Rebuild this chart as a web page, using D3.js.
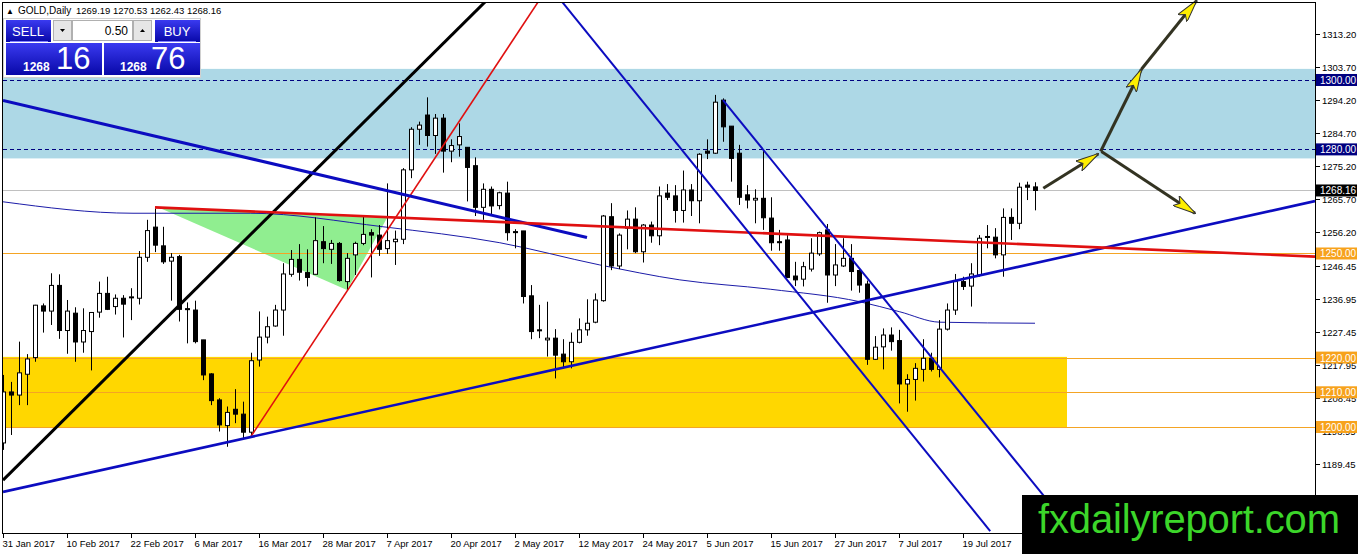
<!DOCTYPE html>
<html>
<head>
<meta charset="utf-8">
<script src="https://cdn.jsdelivr.net/npm/d3@7"></script>
<style>
  body { margin: 0; background: #fff; overflow: hidden; }
  svg { display: block; }
  text { font-family: "Liberation Sans", Arial, sans-serif; }
</style>
</head>
<body>
<svg id="chart" width="1358" height="554"></svg>
<script>
// Daily candles, one per trading day from 31 Jan 2017: [open, high, low, close]
const ohlc = [
  [1195.4,1215.0,1193.4,1210.1],[1210.1,1213.0,1197.7,1209.2],[1209.2,1224.6,1206.3,1215.6],[1215.2,1221.0,1206.3,1219.6],
  [1220.0,1235.2,1218.8,1235.1],[1234.9,1235.6,1227.2,1233.4],[1233.4,1244.3,1229.4,1240.8],[1240.8,1244.0,1225.4,1227.8],
  [1227.8,1236.6,1221.1,1233.4],[1232.8,1234.5,1218.8,1224.5],[1224.5,1234.2,1221.4,1227.8],[1227.5,1233.1,1216.3,1233.0],
  [1233.1,1241.9,1231.5,1238.5],[1238.5,1243.3,1233.7,1233.9],[1234.7,1238.2,1232.4,1237.1],[1237.1,1238.0,1225.8,1235.4],
  [1237.3,1240.0,1230.8,1237.5],[1237.1,1250.7,1235.3,1248.9],[1248.9,1259.7,1247.6,1256.6],[1257.6,1263.0,1250.4,1252.4],
  [1252.2,1257.7,1247.0,1247.6],[1247.8,1250.1,1236.4,1248.9],[1249.1,1249.6,1230.4,1233.9],[1234.1,1235.9,1224.1,1234.0],
  [1233.7,1236.4,1224.1,1224.6],[1225.1,1225.1,1213.5,1215.0],[1215.3,1215.5,1206.3,1207.6],[1207.8,1208.3,1198.7,1200.6],
  [1200.4,1205.9,1194.3,1204.2],[1205.1,1210.9,1201.1,1203.7],[1203.7,1207.3,1196.7,1198.5],[1198.5,1221.4,1197.1,1219.1],
  [1219.3,1233.3,1217.4,1225.9],[1225.9,1231.8,1224.1,1228.9],[1229.1,1235.2,1228.9,1233.7],[1233.7,1247.2,1226.3,1244.1],
  [1244.0,1251.0,1243.3,1248.3],[1248.3,1252.7,1242.2,1244.6],[1244.5,1251.2,1240.5,1243.1],[1244.0,1260.4,1244.0,1253.7],
  [1253.4,1257.9,1247.2,1251.4],[1251.2,1253.9,1247.0,1252.9],[1252.9,1253.3,1241.9,1242.2],[1241.9,1250.1,1239.5,1248.6],
  [1249.6,1253.4,1243.8,1252.9],[1252.9,1260.6,1252.4,1255.5],[1256.0,1257.0,1243.1,1255.3],[1255.3,1258.2,1249.3,1251.2],
  [1251.4,1270.2,1249.9,1253.7],[1253.4,1256.6,1246.7,1254.1],[1254.1,1274.6,1252.7,1274.1],[1274.1,1286.4,1271.7,1285.8],
  [1285.8,1288.0,1281.3,1287.0],[1289.9,1295.0,1280.8,1284.0],[1284.0,1290.2,1278.7,1289.0],[1289.0,1290.2,1273.3,1279.5],
  [1279.5,1282.9,1276.3,1281.1],[1281.3,1287.5,1277.9,1283.7],[1280.6,1280.6,1265.0,1274.8],[1275.3,1277.7,1260.8,1263.3],
  [1263.3,1270.2,1259.7,1268.5],[1268.5,1269.3,1261.1,1263.7],[1263.8,1267.8,1262.7,1267.5],[1267.4,1270.7,1253.7,1256.0],
  [1256.3,1257.0,1251.5,1256.2],[1256.5,1256.5,1235.6,1237.6],[1237.8,1240.9,1225.3,1227.5],[1228.0,1235.2,1225.6,1227.9],
  [1225.1,1236.1,1220.3,1225.6],[1225.6,1228.2,1214.0,1220.7],[1221.0,1225.3,1216.9,1218.8],[1218.8,1227.2,1216.9,1224.4],
  [1224.4,1231.3,1224.1,1228.0],[1228.0,1236.8,1226.3,1229.9],[1230.2,1238.5,1229.9,1236.6],[1236.4,1261.1,1236.1,1260.8],
  [1260.6,1264.5,1245.2,1246.4],[1246.4,1255.8,1245.5,1255.3],[1257.3,1262.4,1251.2,1259.9],[1259.9,1263.3,1250.1,1250.5],
  [1250.5,1258.5,1247.4,1258.2],[1258.2,1259.2,1253.1,1255.1],[1255.1,1269.3,1252.4,1266.6],[1267.4,1270.0,1265.4,1266.2],
  [1266.6,1269.7,1258.9,1262.4],[1262.4,1273.9,1258.9,1268.3],[1268.3,1270.0,1260.8,1265.2],[1265.2,1278.9,1258.7,1278.6],
  [1279.5,1282.9,1277.2,1278.9],[1278.9,1295.7,1278.7,1293.6],[1294.2,1294.7,1282.2,1286.5],[1286.7,1286.7,1270.7,1277.4],
  [1278.9,1281.3,1264.0,1266.2],[1266.9,1269.7,1263.0,1265.4],[1265.4,1268.5,1258.7,1265.9],[1265.9,1279.8,1256.8,1260.3],
  [1260.2,1266.2,1250.8,1253.1],[1253.4,1256.8,1250.8,1253.3],[1253.9,1255.3,1242.9,1243.1],[1243.5,1247.6,1240.6,1242.4],
  [1242.6,1247.6,1240.5,1246.2],[1245.5,1254.4,1244.8,1250.1],[1249.9,1256.3,1249.3,1256.0],[1256.8,1258.5,1235.8,1243.8],
  [1243.8,1252.7,1240.6,1246.7],[1246.4,1254.4,1246.1,1248.6],[1248.6,1252.7,1239.3,1244.8],[1245.1,1245.7,1238.7,1240.9],
  [1241.2,1242.2,1217.9,1219.5],[1219.5,1226.2,1219.3,1223.0],[1223.1,1228.4,1216.6,1226.5],[1226.5,1228.7,1222.0,1224.6],
  [1224.9,1228.0,1206.8,1212.4],[1212.4,1215.2,1204.4,1213.7],[1213.7,1218.4,1207.6,1216.9],[1216.6,1225.3,1213.1,1219.8],
  [1219.8,1221.4,1216.0,1216.6],[1216.6,1230.8,1214.3,1228.2],[1228.2,1235.6,1227.8,1233.7],[1233.7,1244.1,1232.3,1241.9],
  [1241.9,1243.3,1239.5,1240.5],[1240.6,1247.2,1234.7,1244.1],[1243.8,1255.3,1243.3,1254.4],[1254.9,1258.2,1251.5,1254.8],
  [1254.7,1257.3,1248.6,1249.6],[1249.6,1263.0,1243.3,1260.4],[1260.4,1263.0,1253.9,1258.7],[1258.7,1270.4,1257.0,1269.1],
  [1269.7,1270.7,1265.4,1269.1],[1269.19,1270.53,1262.43,1268.16]
];

// date axis: bar number and label
const tickBars = [0, 8, 16, 24, 32, 40, 48, 56, 64, 72, 80, 88, 96, 104, 112, 120];
const tickLabels = ["31 Jan 2017","10 Feb 2017","22 Feb 2017","6 Mar 2017","16 Mar 2017","28 Mar 2017",
  "7 Apr 2017","20 Apr 2017","2 May 2017","12 May 2017","24 May 2017","5 Jun 2017","15 Jun 2017",
  "27 Jun 2017","7 Jul 2017","19 Jul 2017"];

// price axis labels
const priceTicks = ["1313.20","1303.70","1294.20","1284.70","1275.20","1265.70","1256.20","1246.45",
  "1236.95","1227.45","1217.95","1208.45","1198.95","1189.45","1179.95"];

// drawn objects (bar, price)
const navyLevels = [1300, 1280];
const orangeLevels = [1250, 1220, 1210, 1200];
const bidPrice = 1268.16;
const blueZone = [1277.4, 1303.2];
const goldZone = [1199.7, 1220.2];
const goldZoneEnd = 133;
const greenTriangle = [[19.6, 1263.1], [48, 1260.2], [43, 1239.5]];
const maPoints = [[0,1264.9],[16.25,1261.6],[30.9,1261.6],[47.5,1257.7],[62.1,1253.1],[74.6,1246.7],
  [84.6,1242.4],[95.9,1239.7],[107.1,1236.1],[112.1,1233.2],[117.1,1230.2],[129,1229.9]];
const blackTrend = [[0, 1184.7], [60.5, 1323.05]];
const redSteep = [[30.95, 1197.1], [67.05, 1323.05]];
const redFlat = [[19, 1263.3], [164, 1249.1]];
const blueUp = [[0, 1181.3], [164, 1265.1]];
const blueDown = [[0, 1294.1], [73, 1254.6]];
const channelA = [[69.7, 1323.05], [123.4, 1170.0]];
const channelB = [[90, 1294.2], [130.25, 1179.7]];
const arrows = [
  [[130.04, 1268.8], [136.9, 1278.7]],
  [[137.2, 1279.4], [142.3, 1303.1]],
  [[142.3, 1303.1], [149.2, 1322.9]],
  [[137.3, 1279.4], [149.0, 1261.6]]
];

const svg = d3.select("#chart");
const x = d3.scaleLinear().domain([0, 164]).range([3, 1315]);
const y = d3.scaleLinear().domain([1169.45, 1323.05]).range([533, 0]);
const line = d3.line().x(d => x(d[0])).y(d => y(d[1]));

const defs = svg.append("defs");
defs.append("clipPath").attr("id", "plot")
  .append("rect").attr("x", 3).attr("y", 3).attr("width", 1312).attr("height", 530);

const grad = defs.append("linearGradient").attr("id", "btn").attr("x1", 0).attr("y1", 0).attr("x2", 0).attr("y2", 1);
grad.append("stop").attr("offset", "0%").attr("stop-color", "#3a3af0");
grad.append("stop").attr("offset", "100%").attr("stop-color", "#0808a8");

defs.append("marker").attr("id", "head")
  .attr("markerUnits", "userSpaceOnUse")
  .attr("viewBox", "0 0 24 12").attr("markerWidth", 24).attr("markerHeight", 12)
  .attr("refX", 23).attr("refY", 6).attr("orient", "auto")
  .append("path").attr("d", "M0,0 L24,6 L0,12 L5,6 Z")
  .attr("fill", "#ffee00").attr("stroke", "#333").attr("stroke-width", 1);

const plotG = svg.append("g").attr("clip-path", "url(#plot)");

// zones
plotG.append("rect")
  .attr("x", x(0) - 1).attr("width", x(164) - x(0) + 1)
  .attr("y", y(blueZone[1])).attr("height", y(blueZone[0]) - y(blueZone[1]))
  .attr("fill", "#add8e6");
plotG.append("rect")
  .attr("x", x(0) - 1).attr("width", x(goldZoneEnd) - x(0) + 1)
  .attr("y", y(goldZone[1])).attr("height", y(goldZone[0]) - y(goldZone[1]))
  .attr("fill", "#ffd700");
plotG.append("path").datum(greenTriangle)
  .attr("d", d => line(d) + "Z").attr("fill", "#90ee90");

// horizontal levels
plotG.selectAll(".orange").data(orangeLevels).enter().append("line")
  .attr("x1", 3).attr("x2", 1315)
  .attr("y1", d => Math.round(y(d)) + 0.5).attr("y2", d => Math.round(y(d)) + 0.5)
  .attr("stroke", "#f4a424").attr("stroke-width", 1);
plotG.selectAll(".navy").data(navyLevels).enter().append("line")
  .attr("x1", 3).attr("x2", 1315)
  .attr("y1", d => Math.round(y(d)) + 0.5).attr("y2", d => Math.round(y(d)) + 0.5)
  .attr("stroke", "#000080").attr("stroke-dasharray", "4,3");
plotG.append("line")
  .attr("x1", 3).attr("x2", 1315)
  .attr("y1", Math.round(y(bidPrice)) + 0.5).attr("y2", Math.round(y(bidPrice)) + 0.5)
  .attr("stroke", "#c0c0c0");

// moving average
plotG.append("path").datum(maPoints)
  .attr("d", d3.line().x(d => x(d[0])).y(d => y(d[1])).curve(d3.curveMonotoneX))
  .attr("fill", "none").attr("stroke", "#1c1ca8").attr("stroke-width", 1);

// candles
const candle = plotG.selectAll(".candle").data(ohlc).enter().append("g");
candle.append("line")
  .attr("x1", (d, i) => x(i) + 0.5).attr("x2", (d, i) => x(i) + 0.5)
  .attr("y1", d => y(d[1])).attr("y2", d => y(d[2]))
  .attr("stroke", "#000");
candle.append("rect")
  .attr("x", (d, i) => x(i) - 1.5)
  .attr("width", 4)
  .attr("y", d => y(Math.max(d[0], d[3])))
  .attr("height", d => Math.max(1, Math.abs(y(d[0]) - y(d[3]))))
  .attr("fill", d => d[3] >= d[0] ? "#fff" : "#000")
  .attr("stroke", "#000").attr("stroke-width", 1);

// trend lines
const trends = [
  [blackTrend, "#000", 3],
  [redSteep, "#e01010", 1.6],
  [blueDown, "#0c0cc0", 3],
  [blueUp, "#0c0cc0", 2.6],
  [redFlat, "#e01010", 2.6],
  [channelA, "#0c0cc0", 2],
  [channelB, "#0c0cc0", 2]
];
trends.forEach(([pts, color, w]) => {
  plotG.append("path").datum(pts).attr("d", line)
    .attr("fill", "none").attr("stroke", color).attr("stroke-width", w);
});

// scenario arrows
svg.selectAll(".arrow").data(arrows).enter().append("path")
  .attr("d", line)
  .attr("fill", "none").attr("stroke", "#333322").attr("stroke-width", 3)
  .attr("marker-end", "url(#head)");

// frame
svg.append("rect").attr("x", 2.5).attr("y", 2.5).attr("width", 1313).attr("height", 531)
  .attr("fill", "none").attr("stroke", "#000");

// price axis
priceTicks.forEach(t => {
  const py = Math.round(y(+t)) + 0.5;
  svg.append("line").attr("x1", 1316).attr("x2", 1320).attr("y1", py).attr("y2", py).attr("stroke", "#000");
  svg.append("text").attr("x", 1322).attr("y", py + 3.5).attr("font-size", 9.5).attr("fill", "#000").text(t);
});

function axisTag(price, bg) {
  const py = y(price);
  svg.append("rect").attr("x", 1316).attr("y", py - 6).attr("width", 41).attr("height", 12).attr("fill", bg);
  svg.append("text").attr("x", 1320).attr("y", py + 4).attr("font-size", 10).attr("fill", "#fff")
    .text(price.toFixed(2));
}
navyLevels.forEach(p => axisTag(p, "#000080"));
orangeLevels.forEach(p => axisTag(p, "#f7a21c"));
axisTag(bidPrice, "#000");

// date axis
tickBars.forEach((b, k) => {
  const tx = Math.round(x(b)) + 0.5;
  svg.append("line").attr("x1", tx).attr("x2", tx).attr("y1", 534).attr("y2", 538).attr("stroke", "#000");
  svg.append("text").attr("x", tx - 1).attr("y", 547).attr("font-size", 9.5).attr("fill", "#000").text(tickLabels[k]);
});

// header
svg.append("text").attr("x", 6).attr("y", 14).attr("font-size", 8).text("\u25B2");
svg.append("text").attr("x", 18).attr("y", 14).attr("font-size", 10).text("GOLD,Daily");
svg.append("text").attr("x", 76).attr("y", 14).attr("font-size", 9.5)
  .text(ohlc[ohlc.length - 1].map(v => v.toFixed(2)).join(" "));

// one click trading panel
const panel = svg.append("g");
panel.append("rect").attr("x", 3.5).attr("y", 18.5).attr("width", 197).attr("height", 59)
  .attr("fill", "#fff").attr("stroke", "#d0d0d0");
panel.append("rect").attr("x", 6).attr("y", 20).attr("width", 45).attr("height", 22).attr("fill", "url(#btn)");
panel.append("rect").attr("x", 155).attr("y", 20).attr("width", 45).attr("height", 22).attr("fill", "url(#btn)");
panel.append("line").attr("x1", 10).attr("x2", 48).attr("y1", 41.5).attr("y2", 41.5).attr("stroke", "#8080ff");
panel.append("line").attr("x1", 158).attr("x2", 196).attr("y1", 41.5).attr("y2", 41.5).attr("stroke", "#8080ff");
panel.append("text").attr("x", 28).attr("y", 36).attr("text-anchor", "middle").attr("font-size", 13).attr("fill", "#fff").text("SELL");
panel.append("text").attr("x", 177).attr("y", 36).attr("text-anchor", "middle").attr("font-size", 13).attr("fill", "#fff").text("BUY");
panel.append("rect").attr("x", 53.5).attr("y", 20.5).attr("width", 18).attr("height", 20).attr("fill", "#e6e6e6").attr("stroke", "#b0b0b0");
panel.append("rect").attr("x", 133.5).attr("y", 20.5).attr("width", 18).attr("height", 20).attr("fill", "#e6e6e6").attr("stroke", "#b0b0b0");
panel.append("rect").attr("x", 72.5).attr("y", 20.5).attr("width", 60).attr("height", 20).attr("fill", "#fff").attr("stroke", "#b0b0b0");
panel.append("path").attr("d", "M60,29 L65,29 L62.5,32 Z").attr("fill", "#000");
panel.append("path").attr("d", "M140,32 L145,32 L142.5,29 Z").attr("fill", "#000");
panel.append("text").attr("x", 128).attr("y", 35).attr("text-anchor", "end").attr("font-size", 12).attr("fill", "#000").text("0.50");
panel.append("rect").attr("x", 6).attr("y", 43).attr("width", 96).attr("height", 32).attr("fill", "url(#btn)");
panel.append("rect").attr("x", 104).attr("y", 43).attr("width", 96).attr("height", 32).attr("fill", "url(#btn)");
panel.append("text").attr("x", 23).attr("y", 71).attr("font-size", 12).attr("font-weight", "bold").attr("fill", "#fff").text("1268");
panel.append("text").attr("x", 56).attr("y", 69).attr("font-size", 31).attr("fill", "#fff").text("16");
panel.append("text").attr("x", 120).attr("y", 71).attr("font-size", 12).attr("font-weight", "bold").attr("fill", "#fff").text("1268");
panel.append("text").attr("x", 151).attr("y", 69).attr("font-size", 31).attr("fill", "#fff").text("76");

// watermark
svg.append("rect").attr("x", 1022).attr("y", 495).attr("width", 336).attr("height", 59).attr("fill", "#000");
svg.append("text").attr("x", 1038).attr("y", 533).attr("font-size", 40).attr("fill", "#3cd62a")
  .attr("textLength", 302).text("fxdailyreport.com");
</script>
</body>
</html>
